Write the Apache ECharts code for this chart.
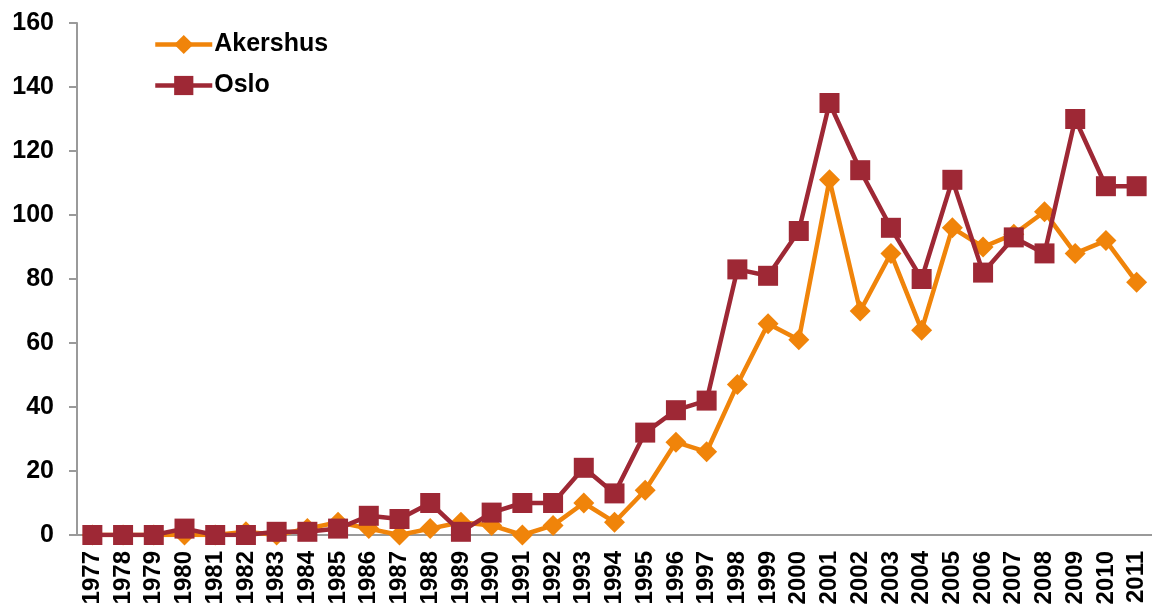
<!DOCTYPE html>
<html>
<head>
<meta charset="utf-8">
<script src="https://cdn.jsdelivr.net/npm/echarts@6/dist/echarts.min.js"></script>
<style>
  html, body { margin: 0; padding: 0; background: #fff; }
  #chart { width: 1152px; height: 610px; }
</style>
</head>
<body>
<div id="chart"></div>
<script>
const years = ['1977', '1978', '1979', '1980', '1981', '1982', '1983', '1984', '1985', '1986',
  '1987', '1988', '1989', '1990', '1991', '1992', '1993', '1994', '1995', '1996',
  '1997', '1998', '1999', '2000', '2001', '2002', '2003', '2004', '2005', '2006',
  '2007', '2008', '2009', '2010', '2011']
const akershus = [0, 0, 0, 0, 0, 1, 0, 2, 4, 2,
  0, 2, 4, 3, 0, 3, 10, 4, 14, 29,
  26, 47, 66, 61, 111, 70, 88, 64, 96, 90,
  94, 101, 88, 92, 79]
const oslo = [0, 0, 0, 2, 0, 0, 1, 1, 2, 6,
  5, 10, 1, 7, 10, 10, 21, 13, 32, 39,
  42, 83, 81, 95, 135, 114, 96, 80, 111, 82,
  93, 88, 130, 109, 109]

const font = 'Liberation Sans, Arial, sans-serif'
const axisGray = '#9a9a9a'

const option = {
  animation: false,
  legend: {
    orient: 'vertical',
    left: 148,
    top: 27,
    itemWidth: 57,
    itemHeight: 24,
    itemGap: 16,
    lineStyle: { width: 4.5 },
    textStyle: { fontFamily: font, fontWeight: 'bold', fontSize: 25, color: '#000', padding: [0, 0, 0, -3] },
    data: ['Akershus', 'Oslo']
  },
  grid: {
    left: 77,
    right: 0,
    top: 23,
    bottom: 75
  },
  xAxis: {
    type: 'category',
    data: years,
    boundaryGap: true,
    axisLine: { lineStyle: { color: axisGray, width: 2 } },
    axisTick: { length: 8, lineStyle: { color: axisGray, width: 2 } },
    axisLabel: {
      rotate: 90,
      interval: 0,
      margin: 16,
      fontFamily: font,
      fontWeight: 'bold',
      fontSize: 24,
      color: '#000'
    }
  },
  yAxis: {
    type: 'value',
    min: 0,
    max: 160,
    interval: 20,
    splitLine: { show: false },
    axisLine: { show: true, lineStyle: { color: axisGray, width: 2 } },
    axisTick: { show: true, length: 8, lineStyle: { color: axisGray, width: 2 } },
    axisLabel: {
      margin: 23,
      fontFamily: font,
      fontWeight: 'bold',
      fontSize: 25,
      color: '#000'
    }
  },
  series: [
    {
      name: 'Akershus',
      type: 'line',
      data: akershus,
      symbol: 'diamond',
      symbolSize: 21,
      color: '#F0840A',
      lineStyle: { width: 4.5, color: '#F0840A' },
      itemStyle: { color: '#F0840A' },
      z: 2
    },
    {
      name: 'Oslo',
      type: 'line',
      data: oslo,
      symbol: 'rect',
      symbolSize: 20,
      color: '#9E2835',
      lineStyle: { width: 4.5, color: '#9E2835' },
      itemStyle: { color: '#9E2835' },
      z: 3
    }
  ]
}
const myChart = echarts.init(document.getElementById('chart'))
myChart.setOption(option)
</script>
</body>
</html>
